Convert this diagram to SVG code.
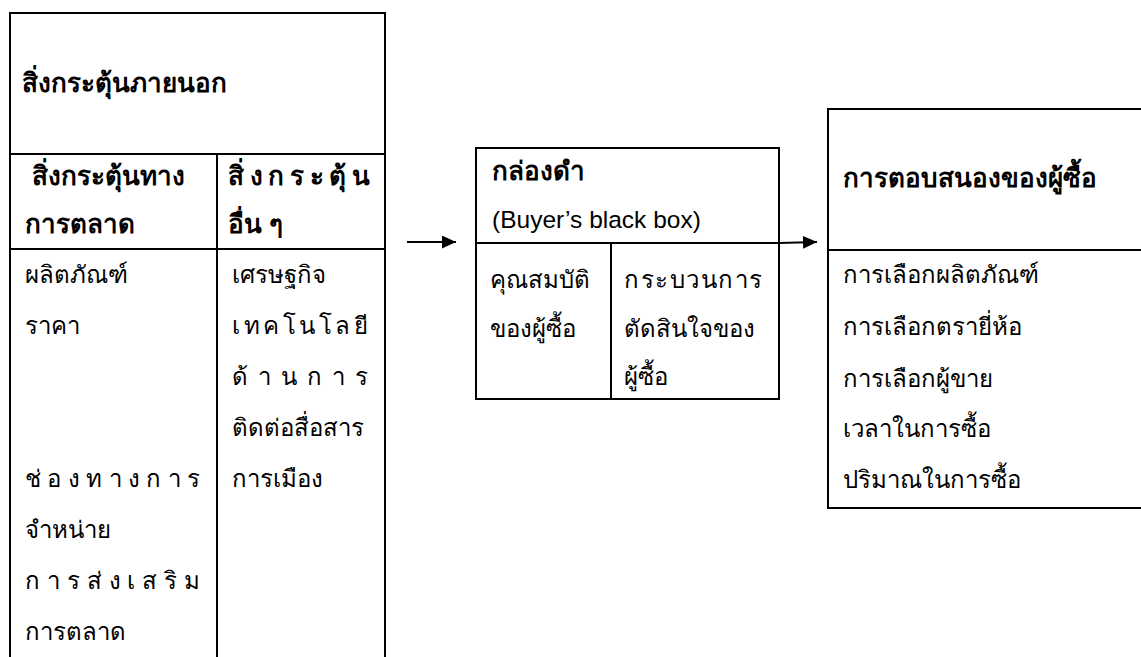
<svg xmlns="http://www.w3.org/2000/svg" width="1141" height="657" viewBox="0 0 1141 657">
<style>
.ln{stroke:#000;stroke-width:2;fill:none}
.t{font-family:"Noto Sans","Liberation Sans",sans-serif;font-size:24px;fill:#000}
.b{font-weight:bold;font-size:26px}
.en{font-family:"Liberation Sans",Arial,sans-serif;font-size:24.5px;fill:#000}
</style>
<defs>
<marker id="ah" markerWidth="14" markerHeight="13" refX="14" refY="6.5" orient="auto" markerUnits="userSpaceOnUse">
<path d="M0,0 L14,6.5 L0,13 Z" fill="#000"/>
</marker>
</defs>
<rect width="1141" height="657" fill="#fff"/>
<g id="external-stimuli">
<path class="ln" d="M10,657 V13 H385 V657 M10,154 H385 M10,249 H385 M217,154 V657"/>
<text class="t b" x="22" y="92">สิ่งกระตุ้นภายนอก</text>
<text class="t b" x="32" y="185">สิ่งกระตุ้นทาง</text>
<text class="t b" x="25" y="233">การตลาด</text>
<text class="t b" x="228" y="185" textLength="142" lengthAdjust="spacing">สิ่งกระตุ้น</text>
<text class="t b" x="228" y="233">อื่น ๆ</text>
<text class="t" x="25" y="283">ผลิตภัณฑ์</text>
<text class="t" x="25" y="334">ราคา</text>
<text class="t" x="25" y="487" textLength="175" lengthAdjust="spacing">ช่องทางการ</text>
<text class="t" x="25" y="538">จำหน่าย</text>
<text class="t" x="25" y="589" textLength="175" lengthAdjust="spacing">การส่งเสริม</text>
<text class="t" x="25" y="640">การตลาด</text>
<text class="t" x="232" y="283">เศรษฐกิจ</text>
<text class="t" x="232" y="334" textLength="136" lengthAdjust="spacing">เทคโนโลยี</text>
<text class="t" x="232" y="385" textLength="136" lengthAdjust="spacing">ด้านการ</text>
<text class="t" x="232" y="436">ติดต่อสื่อสาร</text>
<text class="t" x="232" y="487">การเมือง</text>
</g>
<g id="black-box">
<path class="ln" d="M476,148 H779 V399 H476 Z M476,243 H779 M611,243 V399"/>
<text class="t b" x="492" y="180">กล่องดำ</text>
<text class="en" x="492" y="228">(Buyer’s black box)</text>
<text class="t" x="490" y="288">คุณสมบัติ</text>
<text class="t" x="490" y="337">ของผู้ซื้อ</text>
<text class="t" x="624" y="288" textLength="138" lengthAdjust="spacing">กระบวนการ</text>
<text class="t" x="624" y="337">ตัดสินใจของ</text>
<text class="t" x="624" y="385">ผู้ซื้อ</text>
</g>
<g id="buyer-response">
<path class="ln" d="M1142,109 H828 V508 H1142 M828,250 H1142"/>
<text class="t b" x="843" y="187">การตอบสนองของผู้ซื้อ</text>
<text class="t" x="843" y="283">การเลือกผลิตภัณฑ์</text>
<text class="t" x="843" y="335">การเลือกตรายี่ห้อ</text>
<text class="t" x="843" y="387">การเลือกผู้ขาย</text>
<text class="t" x="843" y="437">เวลาในการซื้อ</text>
<text class="t" x="843" y="488">ปริมาณในการซื้อ</text>
</g>
<g id="connectors">
<line class="ln" x1="407" y1="242" x2="456" y2="242" marker-end="url(#ah)"/>
<line class="ln" x1="779" y1="243" x2="817" y2="242" marker-end="url(#ah)"/>
</g>
</svg>
